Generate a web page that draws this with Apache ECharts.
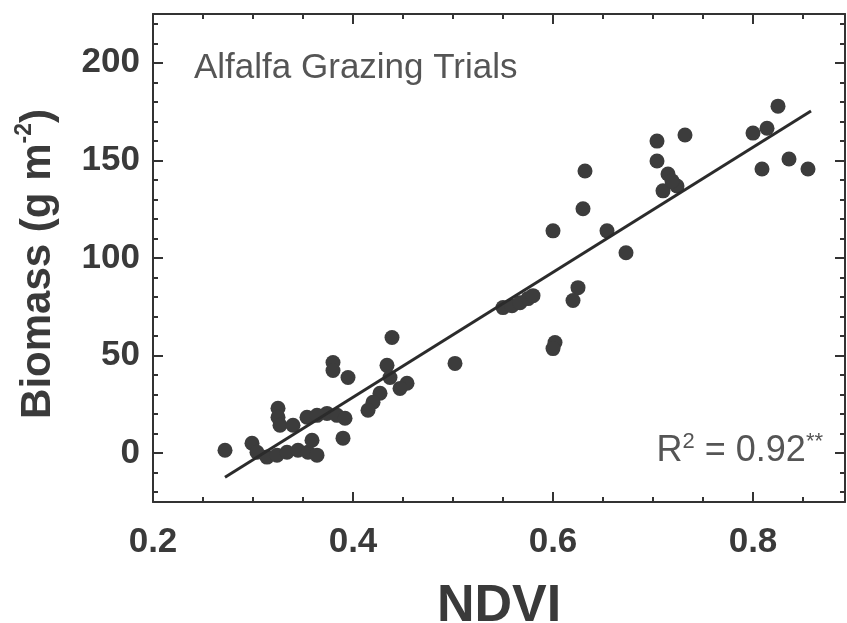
<!DOCTYPE html>
<html>
<head>
<meta charset="utf-8">
<script src="https://cdn.jsdelivr.net/npm/echarts@6/dist/echarts.min.js"></script>
<style>
html,body{margin:0;padding:0;background:#fff;}
#chart{width:847px;height:623px;}
</style>
</head>
<body>
<div id="chart"></div>
<script>
// NDVI values (x) and biomass values (y, g m-2)
const ndvi = [
  0.272, 0.299, 0.304, 0.314, 0.324, 0.334, 0.345, 0.355, 0.359, 0.364,
  0.325, 0.325, 0.327, 0.340, 0.354, 0.364, 0.374, 0.384, 0.392, 0.390,
  0.439, 0.380, 0.380, 0.395, 0.434, 0.437, 0.454, 0.447, 0.427, 0.420, 0.415, 0.502,
  0.630, 0.600, 0.654, 0.673, 0.625, 0.620, 0.602, 0.600,
  0.550, 0.559, 0.567, 0.575, 0.580, 0.632,
  0.704, 0.732, 0.704, 0.715, 0.710, 0.724, 0.719,
  0.825, 0.800, 0.814, 0.809, 0.836, 0.855
];
const biomass = [
  1.5, 5.1, 0.5, -2.0, -1.0, 0.5, 1.5, 0.5, 6.6, -1.0,
  23.0, 18.4, 14.3, 14.3, 18.4, 19.4, 20.4, 19.4, 17.9, 7.7,
  59.3, 46.5, 42.4, 38.8, 45.0, 38.8, 35.8, 33.2, 30.7, 26.1, 22.0, 46.0,
  125.2, 113.9, 113.9, 102.7, 84.8, 78.2, 56.7, 53.6,
  74.6, 75.6, 77.1, 79.2, 80.7, 144.6,
  159.9, 163.0, 149.7, 143.0, 134.4, 136.9, 139.5,
  177.8, 164.0, 166.5, 145.6, 150.7, 145.6
];
// regression line end points
const fitX = [0.272, 0.858];
const fitY = [-12.3, 175.3];
// tick values
const xMajorTicks = [0.2, 0.4, 0.6, 0.8];
const xMinorTicks = [0.25, 0.3, 0.35, 0.4, 0.45, 0.5, 0.55, 0.6, 0.65, 0.7, 0.75, 0.8, 0.85];
const yMajorTicks = [0, 50, 100, 150, 200];
const yMinorTicks = [-20, -10, 0, 10, 20, 30, 40, 50, 60, 70, 80, 90, 100, 110, 120, 130, 140, 150, 160, 170, 180, 190, 200, 210, 220];
const xRange = [0.2, 0.892];
const yRange = [-25, 225];
const titleText = 'Alfalfa Grazing Trials';
const r2Text = 'R{sup|2} = 0.92{sup|**}';

const FONT = 'Liberation Sans, Arial, Helvetica, sans-serif';
const AX = '#333';
const lblStyle = {fontFamily: FONT, fontSize: 35, fontWeight: 'bold', color: '#3a3a3a'};

function xAx(pos, major, withLine, withLabel, extra) {
  return Object.assign({
    type: 'value', position: pos, min: xRange[0], max: xRange[1],
    splitLine: {show: false},
    axisLine: {show: withLine, onZero: false, lineStyle: {color: AX, width: 2}},
    axisTick: {show: true, inside: true, length: major ? 10 : 5, lineStyle: {color: AX, width: 2},
      customValues: major ? xMajorTicks : xMinorTicks},
    axisLabel: withLabel ? Object.assign({show: true, margin: 23, customValues: xMajorTicks,
      formatter: v => v.toFixed(1)}, lblStyle) : {show: false}
  }, extra || {});
}
function yAx(pos, major, withLine, withLabel, extra) {
  return Object.assign({
    type: 'value', position: pos, min: yRange[0], max: yRange[1],
    splitLine: {show: false},
    axisLine: {show: withLine, onZero: false, lineStyle: {color: AX, width: 2}},
    axisTick: {show: true, inside: true, length: major ? 10 : 5, lineStyle: {color: AX, width: 2},
      customValues: major ? yMajorTicks : yMinorTicks},
    axisLabel: withLabel ? Object.assign({show: true, margin: 13, customValues: yMajorTicks}, lblStyle) : {show: false}
  }, extra || {});
}

const chart = echarts.init(document.getElementById('chart'), null, {renderer: 'canvas'});
chart.setOption({
  backgroundColor: '#fff',
  animation: false,
  grid: {left: 153, right: 2, top: 14, bottom: 121, outerBoundsMode: 'none', containLabel: false},
  xAxis: [
    xAx('bottom', false, true, true, {
      name: 'NDVI', nameLocation: 'middle', nameGap: 79,
      nameTextStyle: {fontFamily: FONT, fontSize: 52, fontWeight: 'bold', color: '#3a3a3a'}
    }),
    xAx('bottom', true, false, false),
    xAx('top', false, true, false),
    xAx('top', true, false, false)
  ],
  yAxis: [
    yAx('left', false, true, true, {
      name: 'Biomass (g m{sup|-2})', nameLocation: 'middle', nameGap: 90, nameRotate: 90,
      nameTextStyle: {fontFamily: FONT, fontSize: 42, fontWeight: 'bold', color: '#3a3a3a', lineHeight: 50,
        padding: [0, 12, 0, 0],
        rich: {sup: {fontFamily: FONT, fontSize: 23, fontWeight: 'bold', color: '#3a3a3a', verticalAlign: 'top', lineHeight: 50}}}
    }),
    yAx('left', true, false, false),
    yAx('right', false, true, false),
    yAx('right', true, false, false)
  ],
  graphic: [
    {type: 'text', left: 194, top: 51,
      style: {text: titleText, font: '35px ' + FONT, fill: '#555'}},
    {type: 'text', right: 24, top: 431,
      style: {text: r2Text, font: '36px ' + FONT, fill: '#555',
        rich: {sup: {fontSize: 22, fontFamily: FONT, fill: '#555', verticalAlign: 'top', lineHeight: 40}}}}
  ],
  series: [
    {
      type: 'scatter', xAxisIndex: 0, yAxisIndex: 0,
      data: ndvi.map((x, i) => [x, biomass[i]]),
      symbol: 'circle', symbolSize: 15,
      itemStyle: {color: '#3c3c3c', opacity: 1},
      z: 3
    },
    {
      type: 'line', xAxisIndex: 0, yAxisIndex: 0,
      data: fitX.map((x, i) => [x, fitY[i]]),
      showSymbol: false, symbol: 'none',
      lineStyle: {color: '#2b2b2b', width: 3},
      z: 4
    }
  ]
});
</script>
</body>
</html>
